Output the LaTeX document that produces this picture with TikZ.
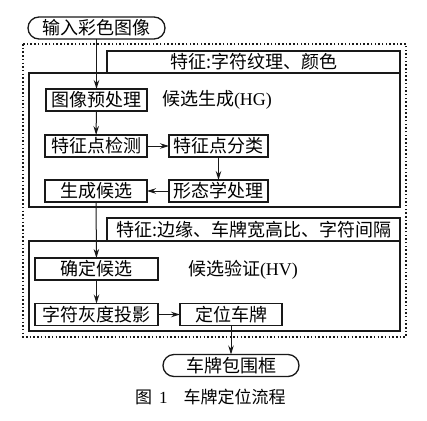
\documentclass[tikz,border=0pt]{standalone}
\usepackage{fontspec}
\setmainfont{Liberation Serif}
\newfontfamily\cjk{Noto Sans CJK SC}
\usetikzlibrary{arrows.meta}
\begin{document}
\begin{tikzpicture}[x=1pt,y=-1pt,
  every node/.style={inner sep=0pt,outer sep=0pt,font=\fontsize{18}{18}\selectfont\cjk},
  box/.style={draw=black!90,line width=1.4pt,minimum height=22pt},
  term/.style={draw=black!90,line width=1.3pt,minimum height=22pt,rounded corners=11pt},
  frame/.style={draw=black!90,line width=1.4pt},
  arr/.style={-{Stealth[length=9pt,width=5.5pt]},line width=1pt,black!90}]
\useasboundingbox (0,0) rectangle (427,420);
% outer dotted frame
\draw[black!90,line width=1.3pt,dash pattern=on 1.5pt off 2.2pt] (23,44) rectangle (406,337);
% upper section
\draw[frame] (107,51) rectangle (400,73);
\draw[frame] (29,73) rectangle (400,207);
\node (tab1) at (253.5,62) {特征:字符纹理、颜色};
% lower section
\draw[frame] (107,218) rectangle (400,241);
\draw[frame] (29,241) rectangle (400,331);
\node (tab2) at (253.5,229.5) {特征:边缘、车牌宽高比、字符间隔};
% nodes
\node[term,minimum width=137pt] (in) at (96.5,28) {输入彩色图像};
\node[box,minimum width=101pt] (pre) at (96.5,100) {图像预处理};
\node[anchor=west] (hg) at (162,100) {候选生成\fontspec{Liberation Serif}(HG)};
\node[box,minimum width=102pt] (det) at (96,146) {特征点检测};
\node[box,minimum width=99pt] (cls) at (218.5,146) {特征点分类};
\node[box,minimum width=102pt] (gen) at (96,191) {生成候选};
\node[box,minimum width=99pt] (mor) at (218.5,191) {形态学处理};
\node[box,minimum width=123pt] (cfm) at (96.5,269) {确定候选};
\node[anchor=west] (hv) at (188,270) {候选验证\fontspec{Liberation Serif}(HV)};
\node[box,minimum width=123pt] (prj) at (96.5,314.5) {字符灰度投影};
\node[box,minimum width=102pt] (loc) at (231,314.5) {定位车牌};
\node[term,minimum width=136pt] (out) at (231,365.5) {车牌包围框};
\node[anchor=west] (cap) at (135,397) {\fontsize{17}{17}\selectfont 图\hspace{7pt}{\fontspec{Liberation Serif}1}\hspace{16pt}车牌定位流程};
% connectors
\draw[arr] (in) -- (pre);
\draw[arr] (pre) -- (det);
\draw[arr] (det) -- (cls);
\draw[arr] (cls) -- (mor);
\draw[arr] (mor) -- (gen);
\draw[arr] (gen) -- (cfm);
\draw[arr] (cfm) -- (prj);
\draw[arr] (prj) -- (loc);
\draw[arr] (loc) -- (out);
\end{tikzpicture}
\end{document}
